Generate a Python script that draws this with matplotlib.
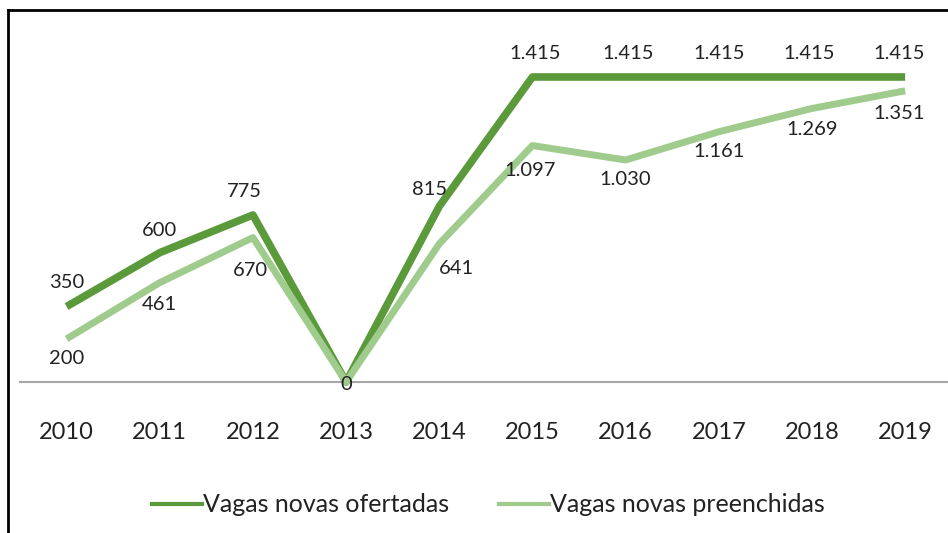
import matplotlib.pyplot as plt
from matplotlib.lines import Line2D

years = ["2010", "2011", "2012", "2013", "2014", "2015", "2016", "2017", "2018", "2019"]
ofertadas = [350, 600, 775, 0, 815, 1415, 1415, 1415, 1415, 1415]
preenchidas = [200, 461, 670, 0, 641, 1097, 1030, 1161, 1269, 1351]

# label offsets in points (dx, dy)
off_dark = [(0, 17), (0, 16), (-6, 17), (0, 0), (-7, 12), (2, 17), (2, 17), (0, 17), (-2, 17), (-4, 17)]
off_light = [(0, -14), (0, -16), (-2, -24), (0, -2), (12, -18), (-2, -18), (0, -14), (0, -14), (0, -15), (-4, -16)]

dark = "#5a9a3b"
light = "#9fcb8c"
txt = "#222222"

plt.rcParams['font.family'] = ['Lato', 'DejaVu Sans']

fig = plt.figure(figsize=(9.48, 5.33), dpi=100)
ax = fig.add_axes([20 / 948, 1 - 382 / 533, 1 - 20 / 948, 352 / 533])

x = list(range(len(years)))
ax.plot(x, ofertadas, color=dark, lw=5.5, solid_capstyle='butt', clip_on=False, zorder=3)
ax.plot(x, preenchidas, color=light, lw=5.0, solid_capstyle='butt', clip_on=False, zorder=4)

def fmt(v):
    return f"{v:,}".replace(",", ".")

for i, v in enumerate(ofertadas):
    if i == 3:
        continue
    ax.annotate(fmt(v), (i, v), xytext=off_dark[i], textcoords='offset points',
                ha='center', va='center', fontsize=14.5, color=txt, zorder=6)
for i, v in enumerate(preenchidas):
    ax.annotate(fmt(v), (i, v), xytext=off_light[i], textcoords='offset points',
                ha='center', va='center', fontsize=14.5, color=txt, zorder=6)

ax.set_xlim(-0.5, 9.46)
ax.set_ylim(0, 1633)
for s in ["top", "right", "left"]:
    ax.spines[s].set_visible(False)
ax.spines["bottom"].set_color("#a6a6a6")
ax.spines["bottom"].set_linewidth(1.5)
ax.set_yticks([])
ax.set_xticks(x)
ax.set_xticklabels(years, fontsize=17, color=txt)
ax.tick_params(axis='x', length=0, pad=29)

handles = [Line2D([], [], color=dark, lw=3), Line2D([], [], color=light, lw=3)]
fig.legend(handles, ["Vagas novas ofertadas", "Vagas novas preenchidas"],
           loc='center', bbox_to_anchor=(0.515, 1 - 505 / 533), ncol=2, frameon=False,
           fontsize=18, handlelength=2.0, handletextpad=0.05, columnspacing=2.0,
           labelcolor=txt)

# frame lines (left and top only)
fig.add_artist(Line2D([8 / 948, 8 / 948], [0, 1 - 10 / 533], color='black', lw=2,
                      transform=fig.transFigure))
fig.add_artist(Line2D([8 / 948, 1], [1 - 10 / 533, 1 - 10 / 533], color='black', lw=2,
                      transform=fig.transFigure))

fig.savefig("out.png", dpi=100)
